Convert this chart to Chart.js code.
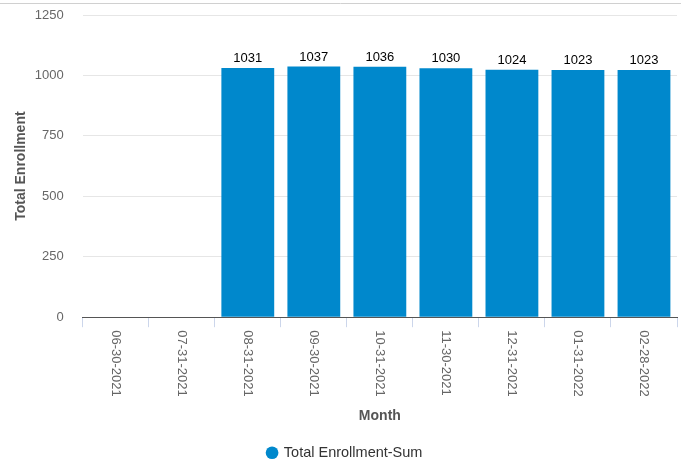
<!DOCTYPE html>
<html>
<head>
<meta charset="utf-8">
<script src="https://cdn.jsdelivr.net/npm/chart.js@4/dist/chart.umd.min.js"></script>
<style>
  html, body { margin: 0; padding: 0; background: #fff; }
  #wrap { width: 681px; height: 460px; position: relative; }
</style>
</head>
<body>
<div id="wrap"><canvas id="chart"></canvas></div>
<script>
// Chart data
const months = ['06-30-2021', '07-31-2021', '08-31-2021', '09-30-2021', '10-31-2021',
  '11-30-2021', '12-31-2021', '01-31-2022', '02-28-2022'];
const enrollment = [null, null, 1031, 1037, 1036, 1030, 1024, 1023, 1023];
const yTicks = [0, 250, 500, 750, 1000, 1250];

const fontFamily = '"Liberation Sans", Arial, sans-serif';
const barColor = '#0088cc';

// Draws the thin line at the top, the value labels and the rotated month labels
const extrasPlugin = {
  id: 'extras',
  beforeDraw(chart) {
    const ctx = chart.ctx;
    ctx.save();
    ctx.strokeStyle = '#d0d0d0';
    ctx.lineWidth = 1;
    ctx.beginPath();
    ctx.moveTo(0, 3.5);
    ctx.lineTo(chart.width, 3.5);
    ctx.stroke();
    ctx.restore();
  },
  afterDatasetsDraw(chart) {
    const ctx = chart.ctx;
    const meta = chart.getDatasetMeta(0);
    ctx.save();
    ctx.font = '13px ' + fontFamily;
    ctx.fillStyle = '#000';
    ctx.textAlign = 'center';
    ctx.textBaseline = 'bottom';
    meta.data.forEach((bar, i) => {
      const v = enrollment[i];
      if (v === null) return;
      ctx.fillText(String(v), bar.x, bar.y - 3);
    });
    ctx.restore();
  },
  afterDraw(chart) {
    // month labels read top to bottom, which the built-in ticks can't do
    const ctx = chart.ctx;
    const xScale = chart.scales.x;
    ctx.save();
    ctx.font = '13px ' + fontFamily;
    ctx.fillStyle = '#666';
    ctx.textAlign = 'left';
    ctx.textBaseline = 'middle';
    months.forEach((label, i) => {
      const x = xScale.getPixelForTick(i);
      ctx.save();
      ctx.translate(x, xScale.top + 13);
      ctx.rotate(Math.PI / 2);
      ctx.fillText(label, 0, 0);
      ctx.restore();
    });
    ctx.restore();
  }
};

const ctx = document.querySelector('#chart');

const enrollmentChart = new Chart(ctx, {
  type: 'bar',
  data: {
    labels: months,
    datasets: [{
      label: 'Total Enrollment-Sum',
      data: enrollment,
      backgroundColor: barColor,
      borderColor: barColor,
      borderWidth: 0,
      barPercentage: 0.8,
      categoryPercentage: 1
    }]
  },
  options: {
    responsive: true,
    maintainAspectRatio: false,
    animation: false,
    layout: {
      padding: { top: 15, right: 4, bottom: -10, left: 13 }
    },
    scales: {
      x: {
        offset: true,
        grid: {
          offset: true,
          drawOnChartArea: false,
          color: '#ccd6eb',
          tickLength: 10
        },
        border: {
          color: '#555',
          width: 1
        },
        ticks: {
          color: 'transparent',
          minRotation: 90,
          maxRotation: 90,
          padding: 3,
          font: { family: fontFamily, size: 13 }
        },
        title: {
          display: true,
          text: 'Month',
          color: '#555',
          font: { family: fontFamily, size: 14, weight: 'bold' },
          padding: { top: 8, bottom: 20 }
        }
      },
      y: {
        min: 0,
        max: 1250,
        afterBuildTicks(scale) {
          scale.ticks = yTicks.map(v => ({ value: v }));
        },
        grid: {
          color: '#e6e6e6',
          drawTicks: true,
          tickLength: 16,
          tickColor: 'transparent'
        },
        border: { display: false },
        ticks: {
          color: '#666',
          padding: 3,
          font: { family: fontFamily, size: 13 },
          callback: (value) => String(value)
        },
        title: {
          display: true,
          text: 'Total Enrollment',
          color: '#555',
          font: { family: fontFamily, size: 14, weight: 'bold' },
          padding: { top: 0, bottom: 2 }
        }
      }
    },
    plugins: {
      legend: {
        position: 'bottom',
        labels: {
          usePointStyle: true,
          pointStyle: 'circle',
          boxWidth: 9,
          boxHeight: 9,
          padding: 1,
          color: '#333',
          font: { family: fontFamily, size: 14.5 }
        }
      },
      tooltip: { enabled: false }
    }
  },
  plugins: [extrasPlugin]
});
</script>
</body>
</html>
